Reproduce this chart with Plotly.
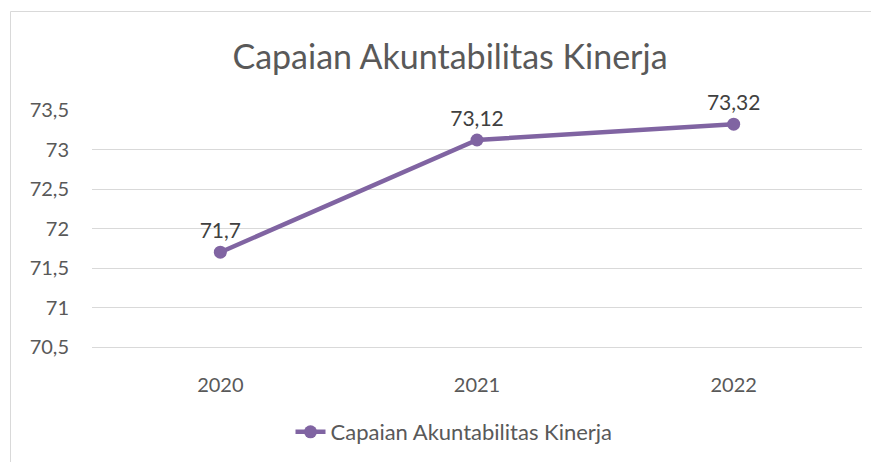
import plotly.graph_objects as go

years = ["2020", "2021", "2022"]
values = [71.7, 73.12, 73.32]
value_labels = ["71,7", "73,12", "73,32"]
series_name = "Capaian Akuntabilitas Kinerja"
y_ticks = [70.5, 71, 71.5, 72, 72.5, 73, 73.5]
y_tick_labels = ["70,5", "71", "71,5", "72", "72,5", "73", "73,5"]

FONT = "Lato, 'Open Sans', sans-serif"
GREY = "#595959"
PURPLE = "#8064A2"
OFF = 8  # page body margin
W, H = 879 - OFF, 462 - OFF
PL, PR, PT, PB = 92 - OFF, 862 - OFF, 110 - OFF, 347 - OFF
PW, PH = PR - PL, PB - PT

fig = go.Figure()
fig.add_trace(go.Scatter(
    x=years, y=values, name=series_name,
    mode="lines+markers+text",
    text=value_labels, textposition="top center",
    textfont=dict(family=FONT, size=21, color="#404040"),
    line=dict(color=PURPLE, width=4.5),
    marker=dict(color=PURPLE, size=13),
    cliponaxis=False,
))

fig.update_layout(
    width=W, height=H,
    margin=dict(l=PL, r=W - PR, t=PT, b=H - PB),
    paper_bgcolor="white", plot_bgcolor="white",
    separators=",.",
    title=dict(text="Capaian Akuntabilitas Kinerja", x=(450 - OFF) / W, xref="container",
               xanchor="center", y=1 - (57 - OFF) / H, yref="container", yanchor="middle",
               font=dict(family=FONT, size=34, color=GREY)),
    showlegend=True,
    legend=dict(orientation="h", x=(454 - OFF) / W, xref="container", xanchor="center",
                y=1 - (432 - OFF) / H, yref="container", yanchor="middle",
                font=dict(family=FONT, size=22, color=GREY)),
    xaxis=dict(type="category", range=[-0.5, 2.5], showgrid=False,
               showline=True, linecolor="#D9D9D9", linewidth=1,
               zeroline=False, ticks="", automargin=False,
               tickfont=dict(family=FONT, size=20, color=GREY),
               ticklabelstandoff=20),
    yaxis=dict(range=[70.5, 73.5], tickvals=y_ticks, ticktext=y_tick_labels,
               showgrid=True, gridcolor="#D9D9D9", gridwidth=1,
               zeroline=False, showline=False, ticks="", automargin=False,
               tickfont=dict(family=FONT, size=20, color=GREY),
               ticklabelstandoff=22),
    shapes=[dict(type="rect", xref="paper", yref="paper",
                 x0=(10.5 - OFF - PL) / PW, x1=1.2,
                 y0=-0.6, y1=(PB - (11.5 - OFF)) / PH,
                 line=dict(color="#D9D9D9", width=1), fillcolor="rgba(0,0,0,0)",
                 layer="below")],
)

fig.write_html("out.html")
